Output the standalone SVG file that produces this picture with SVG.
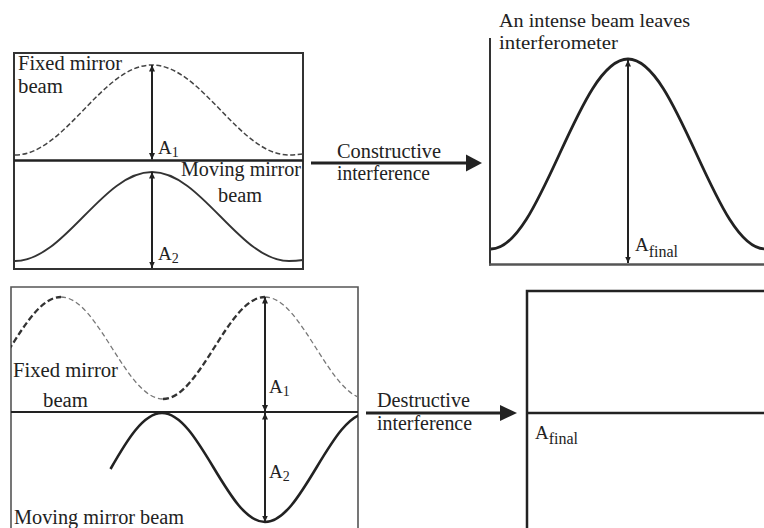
<svg xmlns="http://www.w3.org/2000/svg" width="764" height="528" viewBox="0 0 764 528">
<style>
  text { font-family: "Liberation Serif", "Times New Roman", serif; fill: #222; }
  .lbl { font-size: 20px; }
  .ttl { font-size: 19px; }
  .amp { font-size: 19px; }
  .sub { font-size: 14px; }
  .subf { font-size: 16px; }
  .box { fill: none; stroke: #333; stroke-width: 2; }
  .dimarrow { stroke: #222; stroke-width: 2; fill: none; marker-start: url(#tip); marker-end: url(#tip); }
  .solid { fill: none; stroke: #333; stroke-width: 1.8; }
  .dash { fill: none; stroke: #444; stroke-width: 1.5; stroke-dasharray: 5 2.5; }
  .bigline { stroke: #222; stroke-width: 3.2; fill: none; }
  .bighead { fill: #222; }
</style>
<defs>
  <marker id="tip" markerUnits="userSpaceOnUse" markerWidth="7" markerHeight="7" refX="6.5" refY="3.5" orient="auto-start-reverse">
    <path d="M0,0.5 L6.5,3.5 L0,6.5 z" fill="#222"/>
  </marker>
  <clipPath id="clipBL"><rect x="11" y="287" width="347" height="241"/></clipPath>
</defs>
<rect width="764" height="528" fill="#fff"/>

<g id="constructive-input">
  <rect class="box" x="14" y="53" width="289" height="216"/>
  <line x1="14" y1="160.5" x2="303" y2="160.5" stroke="#222" stroke-width="2.5"/>
  <path class="dash" d="M15,155 C64.8,155 102.2,65 152,65 C201.8,65 239.2,155 289,155 Q296,155 303,154"/>
  <path class="solid" d="M15,261 C64.8,261 102.2,172 152,172 C201.8,172 239.2,261 289,261 Q296,261 303,260"/>
  <line class="dimarrow" x1="152" y1="65" x2="152" y2="159.5"/>
  <line class="dimarrow" x1="152" y1="172" x2="152" y2="268"/>
  <text class="lbl" x="18" y="70" textLength="104" lengthAdjust="spacingAndGlyphs">Fixed mirror</text>
  <text class="lbl" x="18" y="93" textLength="45" lengthAdjust="spacingAndGlyphs">beam</text>
  <text class="amp" x="158" y="153.5">A<tspan class="sub" dy="3">1</tspan></text>
  <text class="lbl" x="181" y="176" textLength="120" lengthAdjust="spacingAndGlyphs">Moving mirror</text>
  <text class="lbl" x="218" y="202" textLength="44" lengthAdjust="spacingAndGlyphs">beam</text>
  <text class="amp" x="158" y="260">A<tspan class="sub" dy="3">2</tspan></text>
</g>

<g id="constructive-output">
  <line x1="490" y1="38" x2="490" y2="265.5" stroke="#333" stroke-width="2"/>
  <line x1="489" y1="264.5" x2="764" y2="264.5" stroke="#555" stroke-width="2.6"/>
  <path fill="none" stroke="#222" stroke-width="2.8" d="M491,249 C540.8,249 578.2,59 628,59 C677.8,59 715.2,249 765,249"/>
  <line class="dimarrow" x1="628" y1="60" x2="628" y2="263"/>
  <text class="ttl" x="499" y="27" textLength="191" lengthAdjust="spacingAndGlyphs">An intense beam leaves</text>
  <text class="ttl" x="499" y="49" textLength="119" lengthAdjust="spacingAndGlyphs">interferometer</text>
  <text class="amp" x="635" y="251">A<tspan class="subf" dy="6">final</tspan></text>
</g>

<g id="destructive-input">
  <path d="M11,530 L11,287 L358,287 L358,530" fill="none" stroke="#555" stroke-width="1.6"/>
  <line x1="11" y1="412" x2="358" y2="412" stroke="#222" stroke-width="2"/>
  <g clip-path="url(#clipBL)">
    <path fill="none" stroke="#333" stroke-width="2.3" stroke-dasharray="6 3" d="M-41,399 C-3.9,399 23.9,297 61,297"/>
    <path fill="none" stroke="#777" stroke-width="1.3" stroke-dasharray="5 3" d="M61,297 C98.1,297 125.9,399 163,399"/>
    <path fill="none" stroke="#333" stroke-width="2.3" stroke-dasharray="6 3" d="M163,399 C200.1,399 227.9,297 265,297"/>
    <path fill="none" stroke="#777" stroke-width="1.3" stroke-dasharray="5 3" d="M265,297 C302.1,297 329.9,399 367,399"/>
    <path fill="none" stroke="#222" stroke-width="2.6" d="M110.5,469 C126.9,440.25 143.3,413 162,413 C199.4,413 227.6,522 265,522 C302.4,522 330.6,413 368,413"/>
  </g>
  <line class="dimarrow" x1="265" y1="297" x2="265" y2="411.5"/>
  <line class="dimarrow" x1="265" y1="413" x2="265" y2="522"/>
  <text class="lbl" x="13" y="377" textLength="105" lengthAdjust="spacingAndGlyphs">Fixed mirror</text>
  <text class="lbl" x="43" y="407" textLength="45" lengthAdjust="spacingAndGlyphs">beam</text>
  <text class="amp" x="269" y="393">A<tspan class="sub" dy="3">1</tspan></text>
  <text class="amp" x="269" y="478">A<tspan class="sub" dy="3">2</tspan></text>
  <text class="lbl" x="14" y="524" textLength="170" lengthAdjust="spacingAndGlyphs">Moving mirror beam</text>
</g>

<g id="destructive-output">
  <path d="M527,530 L527,291 L764,291" fill="none" stroke="#222" stroke-width="2.5"/>
  <line x1="527" y1="413" x2="764" y2="413" stroke="#222" stroke-width="2.5"/>
  <text class="amp" x="535" y="439">A<tspan class="subf" dy="5">final</tspan></text>
</g>

<g id="connectors">
  <g id="arrow-constructive">
    <line class="bigline" x1="311" y1="163" x2="468" y2="163"/>
    <polygon class="bighead" points="466,154.5 482,163 466,171.5"/>
    <text class="lbl" x="337" y="158" textLength="104" lengthAdjust="spacingAndGlyphs">Constructive</text>
    <text class="lbl" x="337" y="180" textLength="93" lengthAdjust="spacingAndGlyphs">interference</text>
  </g>
  <g id="arrow-destructive">
    <line class="bigline" x1="366" y1="413" x2="502" y2="413"/>
    <polygon class="bighead" points="500,405 517,413 500,421"/>
    <text class="lbl" x="377" y="407" textLength="93" lengthAdjust="spacingAndGlyphs">Destructive</text>
    <text class="lbl" x="377" y="430" textLength="95" lengthAdjust="spacingAndGlyphs">interference</text>
  </g>
</g>
</svg>
